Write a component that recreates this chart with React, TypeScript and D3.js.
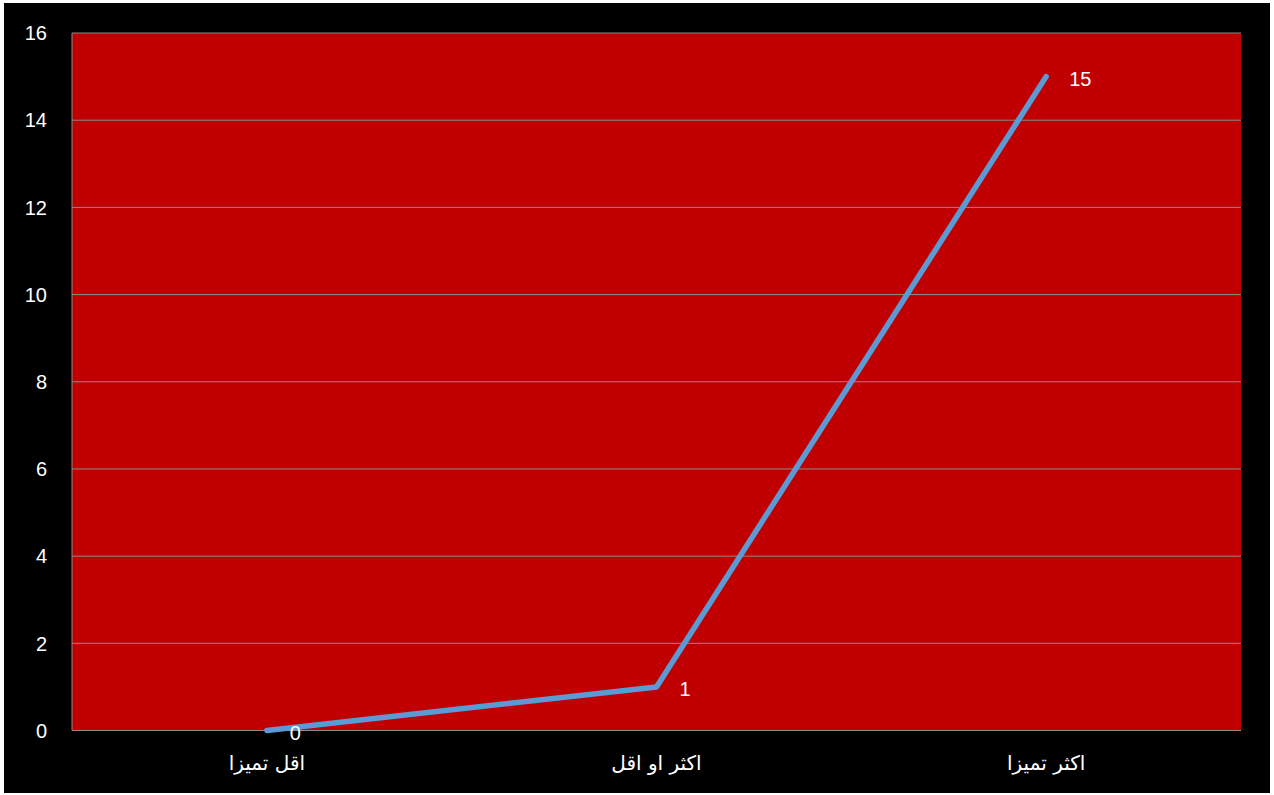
import React from "react";
import * as d3 from "d3";

const categories = ["اقل تميزا", "اكثر او اقل", "اكثر تميزا"];
const values = [0, 1, 15];
const yTicks = [0, 2, 4, 6, 8, 10, 12, 14, 16];

export default function App() {
  const W = 1274, H = 795;
  const left = 72, right = 1241, top = 33, bottom = 730.5;
  const x = d3.scaleBand<string>().domain(categories).range([left, right]);
  const y = d3.scaleLinear().domain([0, 16]).range([bottom, top]);
  const cx = (c: string) => (x(c) as number) + x.bandwidth() / 2;
  const line = d3.line<number>().x((_, i) => cx(categories[i])).y((v) => y(v));
  const numFont = "'Liberation Sans', 'Open Sans', sans-serif";
  return (
    <svg width={W} height={H} style={{ position: "absolute", left: 0, top: 0 }}>
      <rect x={0} y={0} width={W} height={H} fill="#fff" />
      <rect x={4} y={3} width={1266} height={790} fill="#000" />
      <rect x={left} y={top} width={right - left} height={bottom - top} fill="#C00000" />
      {yTicks.map((t) => (
        <line key={t} x1={left} x2={right} y1={y(t)} y2={y(t)} stroke="#8C8C8C" strokeWidth={1} />
      ))}
      <line x1={left} x2={left} y1={top} y2={bottom} stroke="#8C8C8C" strokeWidth={1} />
      {yTicks.map((t) => (
        <text key={t} x={47} y={y(t)} dy="0.36em" textAnchor="end" fill="#fff"
          fontFamily={numFont} fontSize={20}>{t}</text>
      ))}
      {categories.map((c) => (
        <text key={c} x={cx(c)} y={770} textAnchor="middle" fill="#fff" direction="rtl"
          fontFamily="'DejaVu Sans', sans-serif" fontSize={20}>{c}</text>
      ))}
      <path d={line(values) ?? ""} fill="none" stroke="#5B9BD5" strokeWidth={5.5}
        strokeLinecap="round" strokeLinejoin="round" />
      {values.map((v, i) => (
        <text key={i} x={cx(categories[i]) + 23} y={y(v) + 2} dy="0.36em" fill="#fff"
          fontFamily={numFont} fontSize={20}>{v}</text>
      ))}
    </svg>
  );
}
